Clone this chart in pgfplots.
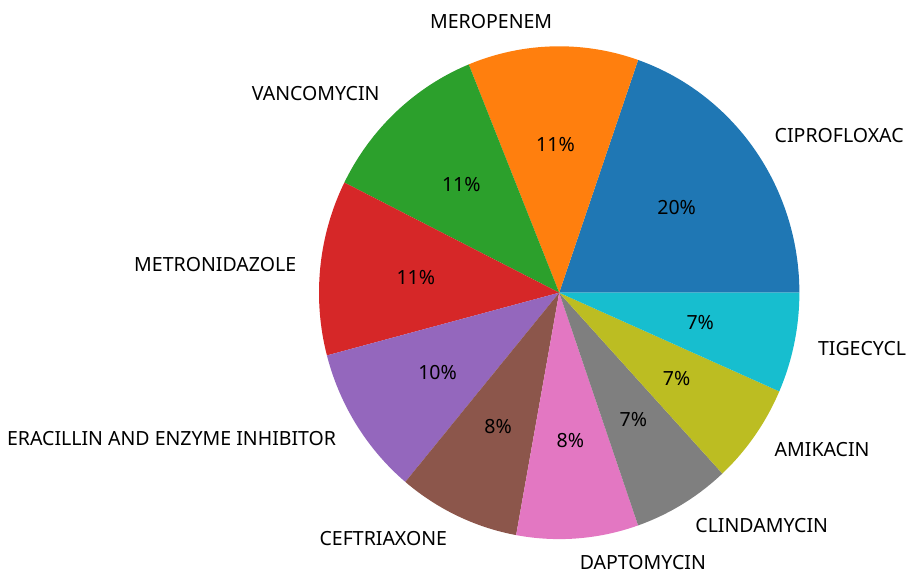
\documentclass[border=0pt]{standalone}
\usepackage{pgfplots}
\pgfplotsset{compat=1.18}
\usepackage{fontspec}
\setmainfont{Noto Sans}
\definecolor{c0}{HTML}{1F77B4}
\definecolor{c1}{HTML}{FF7F0E}
\definecolor{c2}{HTML}{2CA02C}
\definecolor{c3}{HTML}{D62728}
\definecolor{c4}{HTML}{9467BD}
\definecolor{c5}{HTML}{8C564B}
\definecolor{c6}{HTML}{E377C2}
\definecolor{c7}{HTML}{7F7F7F}
\definecolor{c8}{HTML}{BCBD22}
\definecolor{c9}{HTML}{17BECF}
\newcommand\lab{\fontsize{19.6}{23}\selectfont}
\def\counts{12,7,7,7,6,5,5,4,4,4}
\def\names{{CIPROFLOXAC},{MEROPENEM},{VANCOMYCIN},{METRONIDAZOLE},{ERACILLIN AND ENZYME INHIBITOR},{CEFTRIAXONE},{DAPTOMYCIN},{CLINDAMYCIN},{AMIKACIN},{TIGECYCL}}
\def\cx{559.2}\def\cy{286.3}\def\rx{240.2}\def\ry{246.4}
\begin{document}%
\begin{tikzpicture}
\xdef\total{0}
\foreach \v in \counts {\pgfmathsetmacro\t{\total+\v}\xdef\total{\t}}
\xdef\cum{0}
\foreach \v [count=\i from 0] in \counts {
  \pgfmathsetmacro\e{\cum+\v*360/\total}
  \pgfmathsetmacro\m{(\cum+\e)/2}
  \pgfmathsetmacro\lx{\cx+1.1*\rx*cos(\m)}
  \pgfmathsetmacro\ly{\cy+1.1*\ry*sin(\m)}
  \pgfmathsetmacro\px{\cx+0.6*\rx*cos(\m)}
  \pgfmathsetmacro\py{\cy+0.6*\ry*sin(\m)}
  \pgfmathtruncatemacro\p{round(100*\v/\total)}
  \pgfmathsetmacro\c{cos(\m)}
  \ifdim\c pt<0pt \def\a{east}\else\def\a{west}\fi
  \expandafter\xdef\csname st\i\endcsname{\cum}
  \expandafter\xdef\csname en\i\endcsname{\e}
  \expandafter\xdef\csname lx\i\endcsname{\lx}
  \expandafter\xdef\csname ly\i\endcsname{\ly}
  \expandafter\xdef\csname px\i\endcsname{\px}
  \expandafter\xdef\csname py\i\endcsname{\py}
  \expandafter\xdef\csname pc\i\endcsname{\p}
  \expandafter\xdef\csname anc\i\endcsname{\a}
  \xdef\cum{\e}
}
\foreach \n [count=\i from 0] in \names {\expandafter\xdef\csname nm\i\endcsname{\n}}
\useasboundingbox (0,0) rectangle (910bp,579bp);
\begin{axis}[at={(0,0)}, anchor=south west, scale only axis, width=910bp, height=579bp,
  xmin=0, xmax=910, ymin=0, ymax=579, hide axis, clip=false]
\pgfplotsinvokeforeach{0,...,9}{
  \addplot[fill=c#1, draw=none, domain=\csname st#1\endcsname:\csname en#1\endcsname, samples=90, variable=\t]
    ({\cx+\rx*cos(\t)},{\cy+\ry*sin(\t)}) -- (axis cs:\cx,\cy) -- cycle;
}
\pgfplotsinvokeforeach{0,...,9}{
  \edef\temp{\noexpand\node[anchor=\csname anc#1\endcsname, font=\noexpand\lab, inner sep=0pt] at (axis cs:\csname lx#1\endcsname,\csname ly#1\endcsname) {\csname nm#1\endcsname};
  \noexpand\node[font=\noexpand\lab, inner sep=0pt] at (axis cs:\csname px#1\endcsname,\csname py#1\endcsname) {\csname pc#1\endcsname\noexpand\%};}
  \temp
}
\end{axis}
\end{tikzpicture}%
\end{document}
